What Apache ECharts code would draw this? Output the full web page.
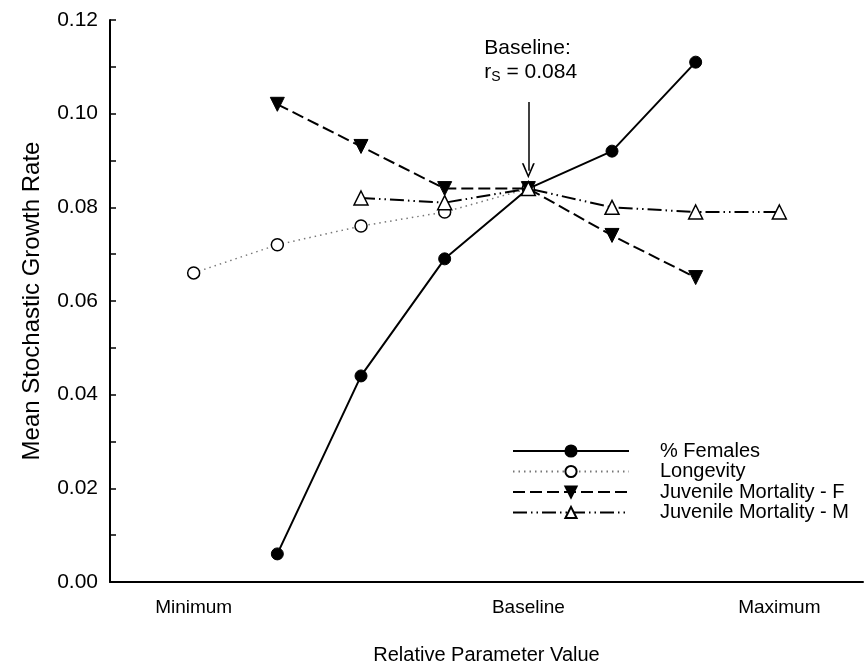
<!DOCTYPE html>
<html>
<head>
<meta charset="utf-8">
<script src="https://cdn.jsdelivr.net/npm/echarts@6/dist/echarts.min.js"></script>
<style>
html,body{margin:0;padding:0;background:#fff;}
#chart{width:866px;height:670px;}
</style>
</head>
<body>
<div id="chart"></div>
<script>
// ---- data ----
const femalesX = [2, 3, 4, 5, 6, 7];
const femalesY = [0.006, 0.044, 0.069, 0.084, 0.092, 0.111];
const longevityX = [1, 2, 3, 4, 5];
const longevityY = [0.066, 0.072, 0.076, 0.079, 0.084];
const jmfX = [2, 3, 4, 5, 6, 7];
const jmfY = [0.102, 0.093, 0.084, 0.084, 0.074, 0.065];
const jmmX = [3, 4, 5, 6, 7, 8];
const jmmY = [0.082, 0.081, 0.084, 0.080, 0.079, 0.079];
const xLabelPos = [1, 5, 8];
const xLabelText = ['Minimum', 'Baseline', 'Maximum'];
const seriesNames = ['% Females', 'Longevity', 'Juvenile Mortality - F', 'Juvenile Mortality - M'];
const baselineX = 5;
const baselineValue = '0.084';
const arrowFrom = 0.1025;
const arrowTo = 0.0878;

const pair = (xs, ys) => xs.map((x, i) => [x, ys[i]]);
const FONT = 'Liberation Sans, Arial, sans-serif';

const chart = echarts.init(document.getElementById('chart'), null, {renderer: 'canvas'});
const option = {
  backgroundColor: '#fff',
  animation: false,
  grid: {left: 110, top: 20, width: 768, height: 565, containLabel: false},
  xAxis: {
    type: 'value', min: 0, max: 9, interval: 1,
    name: 'Relative Parameter Value', nameLocation: 'middle', nameGap: 63,
    nameTextStyle: {fontFamily: FONT, fontSize: 20, color: '#000'},
    axisLine: {show: true, lineStyle: {color: '#000', width: 2}},
    axisTick: {show: false},
    splitLine: {show: false},
    axisLabel: {
      margin: 16, fontFamily: FONT, fontSize: 19, color: '#000',
      formatter: v => { const i = xLabelPos.indexOf(Math.round(v)); return i >= 0 ? xLabelText[i] : ''; }
    }
  },
  yAxis: {
    type: 'value', min: 0, max: 0.12, interval: 0.02,
    name: 'Mean Stochastic Growth Rate', nameLocation: 'middle', nameGap: 66,
    nameTextStyle: {fontFamily: FONT, fontSize: 24, color: '#000'},
    axisLine: {show: true, lineStyle: {color: '#000', width: 2}},
    axisTick: {show: true, inside: true, length: 6, lineStyle: {color: '#000', width: 1.5}},
    minorTick: {show: true, splitNumber: 2, length: 6, lineStyle: {color: '#000', width: 1.5}},
    splitLine: {show: false},
    axisLabel: {margin: 12, fontFamily: FONT, fontSize: 21, color: '#000', formatter: v => v.toFixed(2)}
  },
  legend: {
    orient: 'vertical', left: 507, top: 436, itemWidth: 116, itemHeight: 14, itemGap: 0.5,
    data: seriesNames,
    textStyle: {fontFamily: FONT, fontSize: 20, lineHeight: 20, color: '#000', padding: [0, 0, 0, 26]}
  },
  series: [
    {
      name: seriesNames[0], type: 'line', data: pair(femalesX, femalesY),
      symbol: 'circle', symbolSize: 12,
      lineStyle: {color: '#000', width: 2, type: 'solid'},
      itemStyle: {color: '#000', borderColor: '#000', borderWidth: 1}, z: 2
    },
    {
      name: seriesNames[1], type: 'line', data: pair(longevityX, longevityY),
      symbol: 'circle', symbolSize: 12,
      lineStyle: {color: '#777', width: 1.5, type: [1.5, 4]},
      itemStyle: {color: '#fff', borderColor: '#000', borderWidth: 1.5}, z: 3
    },
    {
      name: seriesNames[2], type: 'line', data: pair(jmfX, jmfY),
      symbol: 'triangle', symbolRotate: 180, symbolSize: 14,
      lineStyle: {color: '#000', width: 2, type: [12, 5]},
      itemStyle: {color: '#000', borderColor: '#000', borderWidth: 1}, z: 4,
      markLine: {
        silent: true, symbol: ['none', 'path://M0,10 L5,0 L10,10 L8.6,10 L5,2.6 L1.4,10 Z'], symbolSize: [13, 15],
        lineStyle: {color: '#000', width: 1.5, type: 'solid'}, label: {show: false},
        data: [[{coord: [baselineX, arrowFrom]}, {coord: [baselineX, arrowTo]}]]
      }
    },
    {
      name: seriesNames[3], type: 'line', data: pair(jmmX, jmmY),
      symbol: 'triangle', symbolSize: 14,
      lineStyle: {color: '#000', width: 2, type: [14, 4, 1.5, 4, 1.5, 4]},
      itemStyle: {color: '#fff', borderColor: '#000', borderWidth: 1.5}, z: 5
    }
  ]
};
chart.setOption(option);

// annotation placed from data coordinates
const p = chart.convertToPixel({gridIndex: 0}, [baselineX, arrowFrom]);
chart.setOption({
  graphic: [{
    type: 'text', left: p[0] - 44, top: p[1] - 64,
    style: {
      text: '{a|Baseline:}\n{a|r}{s|S}{a| = ' + baselineValue + '}',
      rich: {
        a: {fontFamily: FONT, fontSize: 21, lineHeight: 24, fill: '#000'},
        s: {fontFamily: FONT, fontSize: 14, lineHeight: 24, fill: '#000', verticalAlign: 'bottom', padding: [8, 0, 0, 0]}
      },
      fill: '#000'
    }
  }]
});
</script>
</body>
</html>
